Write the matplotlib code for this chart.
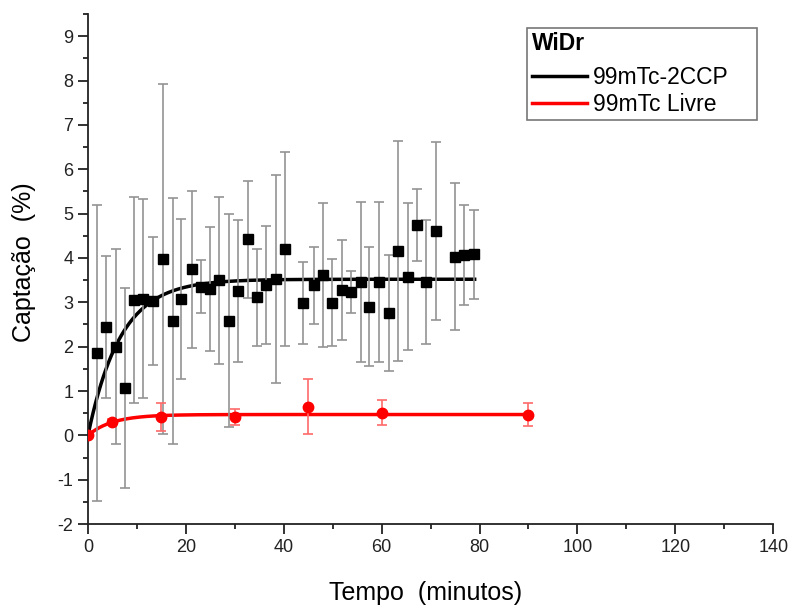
import matplotlib.pyplot as plt
from matplotlib.lines import Line2D
from matplotlib.ticker import MultipleLocator
import numpy as np

plt.rcParams['font.family'] = ['Liberation Sans', 'DejaVu Sans']
plt.rcParams['axes.unicode_minus'] = False

# 99mTc-2CCP (pontos medidos)
t_ccp = [1.8, 3.7, 5.7, 7.6, 9.4, 11.3, 13.3, 15.4, 17.3, 19.1, 21.2, 23.0, 24.9,
         26.8, 28.8, 30.7, 32.6, 34.5, 36.4, 38.4, 40.3, 44.0, 46.1, 48.0, 49.9,
         51.8, 53.7, 55.7, 57.5, 59.5, 61.4, 63.4, 65.3, 67.2, 69.1, 71.1, 74.9,
         76.8, 78.8]
y_ccp = [1.86, 2.45, 2.0, 1.07, 3.05, 3.08, 3.03, 3.97, 2.58, 3.07, 3.75, 3.35, 3.3,
         3.5, 2.58, 3.26, 4.42, 3.11, 3.38, 3.52, 4.2, 2.99, 3.38, 3.61, 2.99,
         3.28, 3.24, 3.46, 2.9, 3.46, 2.76, 4.16, 3.58, 4.74, 3.45, 4.61, 4.03,
         4.06, 4.08]
e_ccp = [3.33, 1.6, 2.2, 2.25, 2.32, 2.24, 1.45, 3.95, 2.77, 1.8, 1.77, 0.6, 1.4,
         1.88, 2.4, 1.6, 1.32, 1.1, 1.33, 2.35, 2.18, 0.92, 0.87, 1.62, 0.98,
         1.13, 0.47, 1.8, 1.34, 1.8, 1.31, 2.48, 1.66, 0.81, 1.4, 2.0, 1.65,
         1.13, 1.0]

# 99mTc livre
t_livre = [0, 5, 15, 30, 45, 60, 90]
y_livre = [0.0, 0.31, 0.41, 0.42, 0.65, 0.51, 0.47]
e_livre = [0.0, 0.05, 0.31, 0.18, 0.62, 0.28, 0.25]

# parametros do ajuste exponencial (plato, taxa, tempo final)
fit_ccp = (3.52, 0.15, 79)
fit_livre = (0.47, 0.2, 90)

fig = plt.figure(figsize=(7.89, 6.08), dpi=100)
ax = fig.add_axes([0.1115, 0.138, 0.8685, 0.839])

for (a, k, tmax), cor in [(fit_ccp, 'black'), (fit_livre, 'red')]:
    tt = np.linspace(0, tmax, 300)
    ax.plot(tt, a * (1 - np.exp(-k * tt)), color=cor, lw=2.5, zorder=2)

ax.errorbar(t_ccp, y_ccp, yerr=e_ccp, fmt='s', color='black', ms=7.5,
            ecolor='#939393', elinewidth=1.2, capsize=3.5, capthick=1.2, zorder=3)
ax.errorbar(t_livre, y_livre, yerr=e_livre, fmt='o', color='red', ms=7.5,
            ecolor='#ff6a6a', elinewidth=1.2, capsize=3.5, capthick=1.2, zorder=3)

ax.set_xlim(0, 140)
ax.set_ylim(-2, 9.5)
ax.xaxis.set_major_locator(MultipleLocator(20))
ax.xaxis.set_minor_locator(MultipleLocator(10))
ax.yaxis.set_major_locator(MultipleLocator(1))
ax.yaxis.set_minor_locator(MultipleLocator(0.5))
ax.set_yticks(range(-2, 10))
ax.spines['top'].set_visible(False)
ax.spines['right'].set_visible(False)
for s in ['left', 'bottom']:
    ax.spines[s].set_linewidth(1.3)
    ax.spines[s].set_color('#222222')
ax.tick_params(which='major', direction='out', length=7, width=1.3, pad=3.5,
               labelsize=13, colors='#222222')
ax.tick_params(which='minor', direction='out', length=3.5, width=1.3,
               colors='#222222')

ax.set_xlabel('Tempo  (minutos)', fontsize=18)
ax.set_ylabel('Captação  (%)', fontsize=18)
ax.xaxis.set_label_coords(0.492, -0.112)
ax.yaxis.set_label_coords(-0.076, 0.514)

handles = [Line2D([], [], color='black', lw=2.5),
           Line2D([], [], color='red', lw=2.5)]
leg = ax.legend(handles, ['99mTc-2CCP', '99mTc Livre'], title='WiDr',
                loc='upper left', bbox_to_anchor=(0.641, 0.5, 0.336, 0.473),
                mode='expand', fontsize=16.5,
                title_fontproperties={'weight': 'bold', 'size': 16.5},
                fancybox=False, edgecolor='#777777', framealpha=1,
                handlelength=2.4, handletextpad=0.25, borderpad=0.2,
                borderaxespad=0, labelspacing=0.15, alignment='left')
leg.get_frame().set_linewidth(1.2)
leg._legend_box.sep = 8

fig.savefig('out.png', dpi=100)
